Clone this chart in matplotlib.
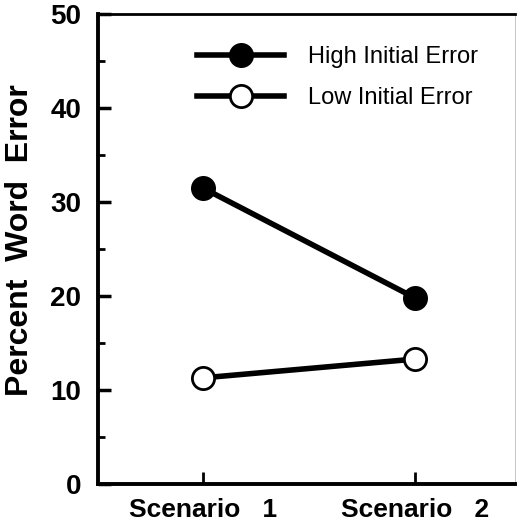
import matplotlib.pyplot as plt
from matplotlib.ticker import MultipleLocator

scenarios = ["Scenario   1", "Scenario   2"]
high_error = [31.5, 19.8]
low_error = [11.3, 13.3]

plt.rcParams['font.family'] = ['Liberation Sans', 'DejaVu Sans']

fig = plt.figure(figsize=(5.18, 5.25), dpi=100)
ax = fig.add_axes([0.189, 0.078, 0.805, 0.895])

x = [1, 2]
ax.plot(x, high_error, '-o', color='black', lw=4, ms=16,
        mfc='black', mec='black', mew=2, label='High Initial Error')
ax.plot(x, low_error, '-o', color='black', lw=4, ms=16,
        mfc='white', mec='black', mew=2, label='Low Initial Error')

ax.set_xlim(0.505, 2.47)
ax.set_ylim(0, 50)
ax.set_xticks(x)
ax.set_xticklabels(scenarios, fontsize=19, fontweight='bold')
ax.yaxis.set_major_locator(MultipleLocator(10))
ax.yaxis.set_minor_locator(MultipleLocator(5))
ax.tick_params(axis='y', which='major', direction='in', length=9, width=2.5,
               labelsize=20, pad=12)
ax.tick_params(axis='y', which='minor', direction='in', length=5, width=2)
ax.tick_params(axis='x', direction='in', length=9, width=2, pad=10)
for lbl in ax.get_yticklabels():
    lbl.set_fontweight('bold')

ax.set_ylabel('Percent  Word  Error', fontsize=23, fontweight='bold')
ax.yaxis.set_label_coords(-0.15, 0.52)

for side in ['left', 'bottom']:
    ax.spines[side].set_linewidth(2.8)
ax.spines['top'].set_linewidth(2.0)
ax.spines['right'].set_linewidth(0.6)
ax.spines['right'].set_color('#bbbbbb')

leg = ax.legend(loc='upper left', bbox_to_anchor=(0.215, 0.952), frameon=False,
                fontsize=17, handlelength=3.7, handletextpad=1.0,
                labelspacing=0.8, borderaxespad=0)

fig.savefig('out.png', dpi=100)
